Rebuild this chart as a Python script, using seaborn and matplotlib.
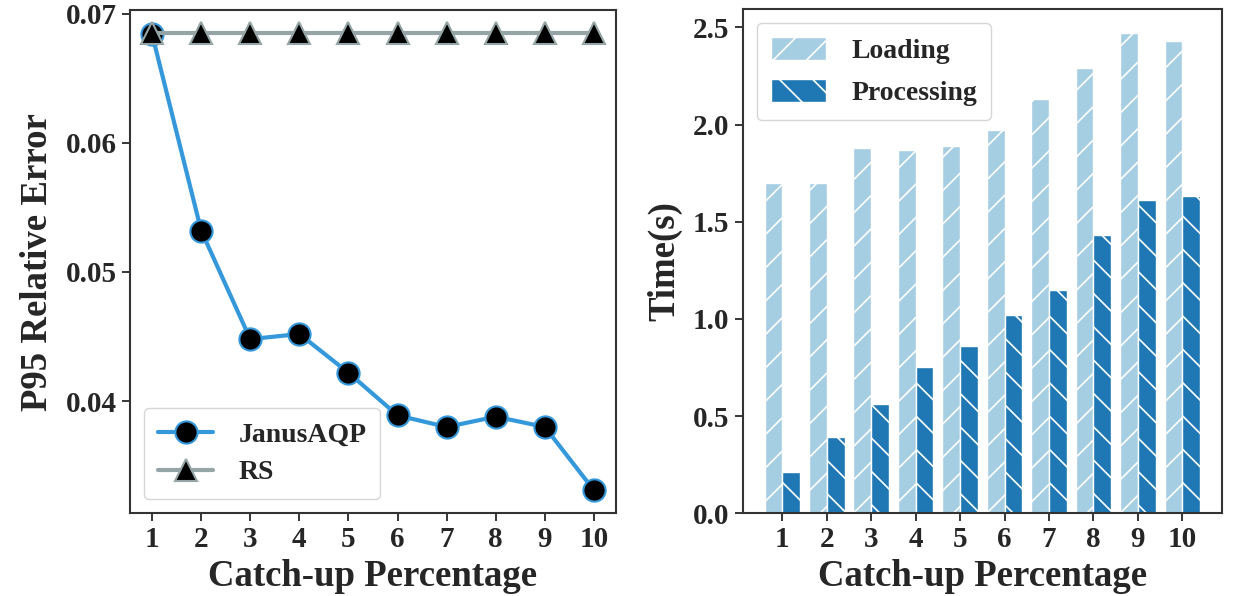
import matplotlib
matplotlib.use("Agg")
import matplotlib.pyplot as plt
import numpy as np
import pandas as pd
import seaborn as sns

# catch-up percentage (x)
pct = [1, 2, 3, 4, 5, 6, 7, 8, 9, 10]

# left: P95 relative error
janus_err = [0.0684, 0.0532, 0.0448, 0.0452, 0.0422, 0.0389, 0.0380, 0.0388, 0.0380, 0.0331]
rs_err = [0.0685] * 10

# right: time (s)
loading = [1.70, 1.70, 1.88, 1.87, 1.89, 1.97, 2.13, 2.29, 2.47, 2.43]
processing = [0.21, 0.39, 0.56, 0.75, 0.86, 1.02, 1.15, 1.43, 1.61, 1.63]

sns.set_theme(style="ticks")
plt.rcParams["font.family"] = ["Liberation Serif", "DejaVu Serif"]
plt.rcParams["font.weight"] = "bold"
plt.rcParams["axes.labelweight"] = "bold"
plt.rcParams["hatch.color"] = "white"
plt.rcParams["hatch.linewidth"] = 1.2
TXT = "#262626"

fig = plt.figure(figsize=(12.38, 5.96), dpi=100)
ax1 = fig.add_axes([0.105, 0.139, 0.3926, 0.844])
ax2 = fig.add_axes([0.600, 0.139, 0.387, 0.846])

# ---- left: error line chart
err = pd.DataFrame({"pct": pct, "JanusAQP": janus_err, "RS": rs_err})
sns.lineplot(data=err, x="pct", y="JanusAQP", ax=ax1, color="#3498db", lw=3,
             marker="o", markersize=16, markerfacecolor="black",
             markeredgecolor="#3498db", markeredgewidth=1.5, label="JanusAQP")
sns.lineplot(data=err, x="pct", y="RS", ax=ax1, color="#95a5a6", lw=3,
             marker="^", markersize=16, markerfacecolor="black",
             markeredgecolor="#95a5a6", markeredgewidth=1.5, label="RS")
ax1.set_xticks(pct)
ax1.set_yticks([0.04, 0.05, 0.06, 0.07])
ax1.set_xlabel("Catch-up Percentage", fontsize=26.5, color=TXT, labelpad=4)
ax1.set_ylabel("P95 Relative Error", fontsize=26.5, color=TXT, labelpad=8)
ax1.legend(loc="lower left", fontsize=20, frameon=True, handlelength=2.0,
           borderpad=0.5, labelspacing=0.45, handletextpad=0.9)

# ---- right: grouped bars
tm = pd.DataFrame({
    "pct": pct * 2,
    "time": loading + processing,
    "kind": ["Loading"] * 10 + ["Processing"] * 10,
})
sns.barplot(data=tm, x="pct", y="time", hue="kind", ax=ax2,
            palette=["#a6cee3", "#1f78b4"], edgecolor="white", linewidth=1,
            saturation=1)
for cont, h in zip(ax2.containers, ["/", "\\"]):
    for p in cont:
        p.set_hatch(h)
ax2.set_xlim(-0.89, 9.89)
ax2.set_ylim(0, 2.595)
ax2.set_xlabel("Catch-up Percentage", fontsize=26.5, color=TXT, labelpad=4)
ax2.set_ylabel("Time(s)", fontsize=26.5, color=TXT, labelpad=8)
leg = ax2.legend(loc="upper left", fontsize=20, frameon=True, handlelength=2.0,
                 handleheight=0.9, borderpad=0.5, labelspacing=0.55,
                 handletextpad=0.9)
for h, pat in zip(leg.legend_handles, ["/", "\\"]):
    h.set_hatch(pat)

for ax in (ax1, ax2):
    ax.tick_params(labelsize=21, length=6, width=1.3, colors=TXT)
    for lab in ax.get_xticklabels() + ax.get_yticklabels():
        lab.set_fontweight("bold")
    for s in ax.spines.values():
        s.set_linewidth(1.5)
        s.set_color("#333333")

fig.savefig("out.png", dpi=100)
